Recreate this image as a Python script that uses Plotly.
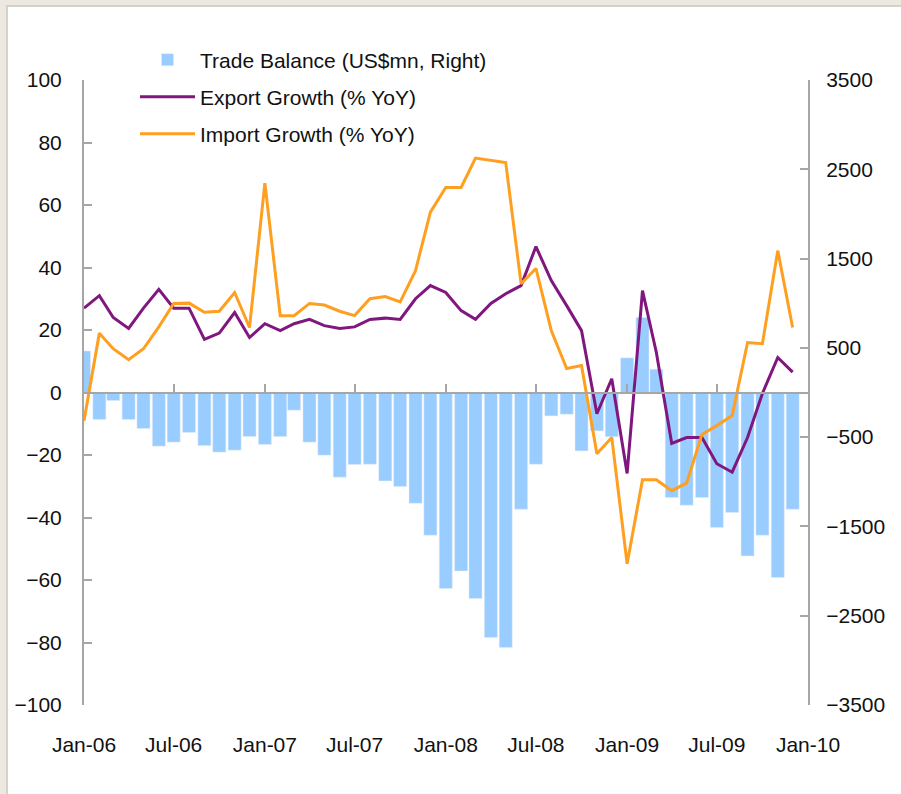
import pandas as pd
import plotly.graph_objects as go

# monthly data, Jan-06 .. Dec-09
months = pd.date_range("2006-01-01", "2009-12-01", freq="MS")

export_growth = [27, 31, 24, 20.5, 27, 33, 27, 27, 17, 19, 25.6, 17.6,
                 22, 19.8, 22, 23.4, 21.4, 20.5, 21, 23.4, 23.8, 23.4, 30, 34.2,
                 32, 26.2, 23.4, 28.5, 31.6, 34.2, 46.7, 35.8, 27.8, 19.8, -6.8, 4.4,
                 -25.9, 32.6, 12.8, -16.3, -14.4, -14.4, -22.8, -25.5, -14.4, -0.3, 11.2, 6.5]

import_growth = [-9, 19, 14, 10.5, 14, 21, 28.5, 28.6, 25.7, 26, 32, 20.8,
                 67, 24.6, 24.6, 28.5, 28, 26, 24.6, 30, 30.7, 29, 39, 57.7,
                 65.6, 65.6, 75, 74.3, 73.6, 34.8, 39.7, 19.8, 7.7, 8.6, -19.6, -14.4,
                 -54.8, -27.9, -27.9, -31.4, -29, -13.4, -10.6, -7.4, 16, 15.6, 45.4, 20.8]

trade_balance = [465, -302, -90, -302, -403, -601, -556, -448, -594, -668, -646, -493,
                 -582, -493, -198, -556, -702, -948, -806, -803, -990, -1053, -1240, -1598,
                 -2195, -1998, -2307, -2744, -2856, -1307, -803, -262, -243, -654, -430, -495,
                 388, 840, 261, -1176, -1262, -1176, -1512, -1344, -1830, -1598, -2072, -1307]

x_ticks = pd.date_range("2006-01-01", "2010-01-01", freq="6MS")
x_labels = ["Jan-06", "Jul-06", "Jan-07", "Jul-07", "Jan-08", "Jul-08", "Jan-09", "Jul-09", "Jan-10"]
left_ticks = list(range(-100, 101, 20))
right_ticks = list(range(-3500, 3501, 1000))

FONT = "Liberation Sans, Arial, sans-serif"
AXIS = "#a6a6a6"
x_range = ["2006-01-01", "2010-01-01"]

# plot area in pixels: x 84..808, y 80..705
def px_x(p):
    return (p - 84) / 724

def px_y(p):
    return (705 - p) / 625

fig = go.Figure()
# bars on the base axes (right scale) so the lines sit on top
fig.add_trace(go.Bar(x=months, y=trade_balance, name="Trade Balance (US$mn, Right)",
                     marker_color="#99ccff", xaxis="x", yaxis="y", legend="legend"))
fig.add_trace(go.Scatter(x=months, y=export_growth, name="Export Growth (% YoY)", mode="lines",
                         line=dict(color="#80177f", width=3), xaxis="x2", yaxis="y2",
                         legend="legend2"))
fig.add_trace(go.Scatter(x=months, y=import_growth, name="Import Growth (% YoY)", mode="lines",
                         line=dict(color="#ff9f1f", width=3), xaxis="x2", yaxis="y2",
                         legend="legend3"))

leg = dict(xanchor="left", yanchor="middle", bgcolor="rgba(0,0,0,0)",
           font=dict(size=21, color="#111111"), itemwidth=55)

fig.update_layout(
    width=901, height=794,
    margin=dict(l=84, r=93, t=80, b=89, autoexpand=False),
    paper_bgcolor="#ede9e0", plot_bgcolor="rgba(0,0,0,0)",
    font=dict(family=FONT, size=21, color="#111111"),
    bargap=0.06,
    showlegend=True,
    legend=dict(leg, x=px_x(135), y=px_y(60)),
    legend2=dict(leg, x=px_x(135), y=px_y(97)),
    legend3=dict(leg, x=px_x(135), y=px_y(134)),
    xaxis=dict(type="date", range=x_range, tickvals=x_ticks, ticktext=x_labels,
               showgrid=False, showline=False, ticks="", zeroline=False,
               ticklabelstandoff=25),
    xaxis2=dict(type="date", range=x_range, tickvals=x_ticks, overlaying="x",
                anchor="free", position=0.5, side="bottom",
                showline=True, linecolor=AXIS, linewidth=2, ticks="inside", ticklen=8,
                tickcolor=AXIS, tickwidth=1.5, showticklabels=False, showgrid=False, zeroline=False),
    yaxis=dict(side="right", range=[-3500, 3500], tickvals=right_ticks,
               showline=True, linecolor=AXIS, linewidth=2, ticks="inside", ticklen=8,
               tickcolor=AXIS, tickwidth=1.5, showgrid=False, zeroline=False,
               ticklabelstandoff=12),
    yaxis2=dict(side="left", range=[-100, 100], tickvals=left_ticks, overlaying="y", anchor="x2",
                showline=True, linecolor=AXIS, linewidth=2, ticks="inside", ticklen=8,
                tickcolor=AXIS, tickwidth=1.5, showgrid=False, zeroline=False,
                ticklabelstandoff=16),
    shapes=[
        # white panel inside the beige frame
        dict(type="rect", xref="paper", yref="paper", layer="below",
             x0=px_x(7), x1=px_x(910), y0=px_y(800), y1=px_y(6),
             fillcolor="white", line=dict(color="#c9c6bf", width=1.5)),
    ],
)

# drop the page's default body margin so the figure sits at the window's corner
fig.write_html("out.html", config={"displayModeBar": False},
               post_script="document.body.style.margin = '0';")
